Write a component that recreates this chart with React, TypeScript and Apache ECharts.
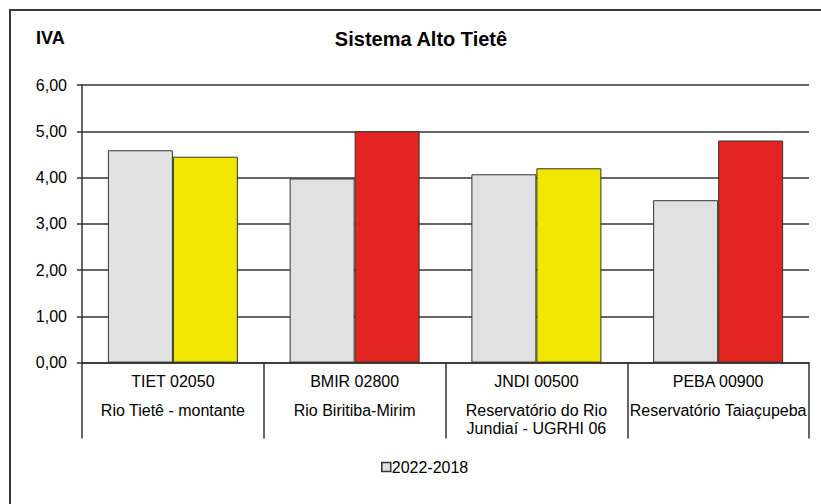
import React, { useEffect, useRef } from "react";
import * as echarts from "echarts";

const stationCodes = ["TIET 02050", "BMIR 02800", "JNDI 00500", "PEBA 00900"];
const stationNames = [
  ["Rio Tietê - montante"],
  ["Rio Biritiba-Mirim"],
  ["Reservatório do Rio", "Jundiaí - UGRHI 06"],
  ["Reservatório Taiaçupeba"],
];
const avgSeriesName = "2022-2018";
const avgValues = [4.59, 3.98, 4.07, 3.51];
const currentValues = [4.45, 5.0, 4.2, 4.8];
const currentColors = ["#f2e600", "#e42421", "#f2e600", "#e42421"];
const yTicks = [0, 1, 2, 3, 4, 5, 6];

export default function App() {
  const ref = useRef<HTMLDivElement>(null);
  useEffect(() => {
    if (!ref.current) return;
    const chart = echarts.init(ref.current, null, { renderer: "svg" });
    const font = "'Liberation Sans', Arial, sans-serif";
    const cats = stationCodes.map((c, i) => c + "|" + i);
    chart.setOption({
      animation: false,
      textStyle: { fontFamily: font },
      grid: { left: 82, right: 12, top: 85, bottom: 141.4, containLabel: false },
      graphic: [
        {
          type: "rect",
          shape: { x: 10, y: 10, width: 840, height: 520 },
          style: { fill: "none", stroke: "#3a3a3a", lineWidth: 2 },
          silent: true,
        },
        {
          type: "text",
          x: 36,
          y: 38,
          style: { text: "IVA", fontFamily: font, fontSize: 18, fontWeight: "bold", fill: "#000", verticalAlign: "middle" },
        },
        {
          type: "text",
          x: 421,
          y: 39,
          style: { text: "Sistema Alto Tietê", fontFamily: font, fontSize: 20, fontWeight: "bold", fill: "#000", align: "center", verticalAlign: "middle" },
        },
      ],
      legend: {
        data: [avgSeriesName],
        left: 381,
        top: 459,
        padding: 0,
        itemWidth: 9,
        itemHeight: 9,
        icon: "rect",
        textStyle: { fontFamily: font, fontSize: 16, color: "#000", padding: [0, 0, 0, -4] },
        itemStyle: { borderColor: "#333", borderWidth: 1.5 },
      },
      xAxis: {
        type: "category",
        data: cats,
        axisLine: { show: true, lineStyle: { color: "#333", width: 1.5 } },
        axisTick: { show: true, length: 76, lineStyle: { color: "#333", width: 1.5 } },
        axisLabel: {
          interval: 0,
          margin: 10,
          color: "#000",
          fontSize: 16,
          fontFamily: font,
          formatter: (v: string) => {
            const i = Number(v.split("|")[1]);
            const names = stationNames[i].map((n) => "{name|" + n + "}").join("\n");
            return "{code|" + stationCodes[i] + "}\n{gap|}\n" + names;
          },
          rich: {
            code: { fontSize: 16, lineHeight: 18, fontFamily: font, color: "#000" },
            gap: { fontSize: 6, lineHeight: 11, height: 11 },
            name: { fontSize: 16, lineHeight: 18, fontFamily: font, color: "#000" },
          },
        },
      },
      yAxis: {
        type: "value",
        min: yTicks[0],
        max: yTicks[yTicks.length - 1],
        interval: 1,
        axisLine: { show: true, lineStyle: { color: "#333", width: 1.5 } },
        axisTick: { show: true, length: 5, lineStyle: { color: "#333", width: 1.5 } },
        axisLabel: {
          margin: 15,
          color: "#000",
          fontSize: 16,
          fontFamily: font,
          formatter: (v: number) => v.toFixed(2).replace(".", ","),
        },
        splitLine: { show: true, lineStyle: { color: "#333", width: 1.5 } },
      },
      series: [
        {
          name: avgSeriesName,
          type: "bar",
          data: avgValues,
          barWidth: 65,
          barGap: "0%",
          itemStyle: { color: "#e1e1e1", borderColor: "#333", borderWidth: 1 },
        },
        {
          name: "Atual",
          type: "bar",
          data: currentValues.map((v, i) => ({ value: v, itemStyle: { color: currentColors[i] } })),
          barWidth: 65,
          barGap: "0%",
          itemStyle: { borderColor: "#333", borderWidth: 1 },
        },
      ],
    });
    return () => chart.dispose();
  }, []);
  return (
    <div
      ref={ref}
      style={{ position: "fixed", left: 0, top: 0, width: 821, height: 504, background: "#fff" }}
    />
  );
}
